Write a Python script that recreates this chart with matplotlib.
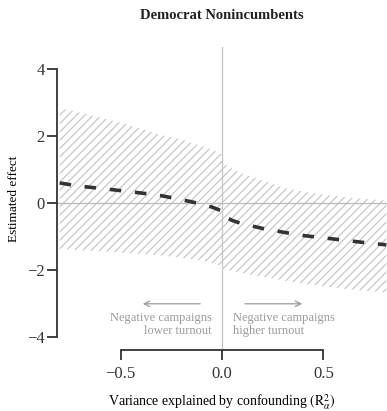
import matplotlib
matplotlib.use("Agg")
import matplotlib.pyplot as plt

plt.rcParams['font.family'] = ['Liberation Serif', 'DejaVu Serif']
plt.rcParams['mathtext.fontset'] = 'stix'
plt.rcParams['hatch.linewidth'] = 0.85

# sensitivity curve: estimate and band vs. confounding (zero listed twice for the break)
r2 = [-0.80, -0.70, -0.60, -0.50, -0.40, -0.30, -0.20, -0.10, -0.05, 0.0,
      0.0, 0.05, 0.10, 0.20, 0.30, 0.40, 0.50, 0.60, 0.70, 0.81]
estimate = [0.60, 0.50, 0.44, 0.37, 0.30, 0.22, 0.10, -0.03, -0.12, -0.24,
            -0.36, -0.52, -0.62, -0.76, -0.87, -0.97, -1.04, -1.11, -1.18, -1.25]
upper = [2.84, 2.70, 2.55, 2.40, 2.22, 2.03, 1.90, 1.70, 1.60, 1.45,
         1.22, 1.02, 0.88, 0.68, 0.46, 0.34, 0.25, 0.18, 0.12, 0.08]
lower = [-1.38, -1.41, -1.44, -1.48, -1.52, -1.57, -1.63, -1.72, -1.79, -1.88,
         -1.97, -2.03, -2.09, -2.20, -2.31, -2.41, -2.49, -2.56, -2.62, -2.67]

xticks = [-0.5, 0.0, 0.5]
yticks = [-4, -2, 0, 2, 4]

fig = plt.figure(figsize=(3.87, 4.11), dpi=100)
ax = fig.add_axes([57 / 387, 61 / 411, 330 / 387, 303 / 411])

ax.fill_between(r2, lower, upper, facecolor='none', edgecolor='#c4c4c4',
                hatch='////', linewidth=0)
ax.axhline(0, color='#bdbdbd', lw=1.0, zorder=1)
ax.axvline(0, color='#c8c8c8', lw=1.0, zorder=1)
ax.plot(r2, estimate, color='#333333', lw=2.6, dashes=(3.2, 3.8), zorder=3)

ax.set_xlim(-0.813, 0.813)
ax.set_ylim(-4.39, 4.66)

# range-frame axes
for s in ['top', 'right']:
    ax.spines[s].set_visible(False)
ax.spines['left'].set_bounds(-4, 4)
ax.spines['bottom'].set_bounds(-0.5, 0.5)
for s in ['left', 'bottom']:
    ax.spines[s].set_color('#333333')
    ax.spines[s].set_linewidth(1.3)
ax.set_xticks(xticks)
ax.set_xticklabels(['\u22120.5', '0.0', '0.5'])
ax.set_yticks(yticks)
ax.set_yticklabels(['\u22124', '\u22122', '0', '2', '4'])
ax.tick_params(axis='both', length=7.5, width=1.3, color='#333333',
               labelsize=12, labelcolor='#333333')
ax.tick_params(axis='y', pad=1.5)
ax.tick_params(axis='x', pad=4)

ax.set_ylabel('Estimated effect', fontsize=9.5, labelpad=5)
ax.set_xlabel(r'Variance explained by confounding $(\mathrm{R}^2_\alpha)$',
              fontsize=10, labelpad=8)
ax.set_title('Democrat Nonincumbents', fontsize=10.5, fontweight='bold',
             color='#222222', pad=20)

note = '#9a9a9a'
ax.annotate('', xy=(-0.404, -3.01), xytext=(-0.094, -3.01),
            arrowprops=dict(arrowstyle='->', color=note, lw=0.9))
ax.annotate('', xy=(0.409, -3.01), xytext=(0.099, -3.01),
            arrowprops=dict(arrowstyle='->', color=note, lw=0.9))
ax.text(-0.05, -3.63, 'Negative campaigns\nlower turnout', ha='right',
        va='center', fontsize=9, color=note, linespacing=1.2)
ax.text(0.054, -3.63, 'Negative campaigns\nhigher turnout', ha='left',
        va='center', fontsize=9, color=note, linespacing=1.2)

fig.savefig('out.png', dpi=100)
